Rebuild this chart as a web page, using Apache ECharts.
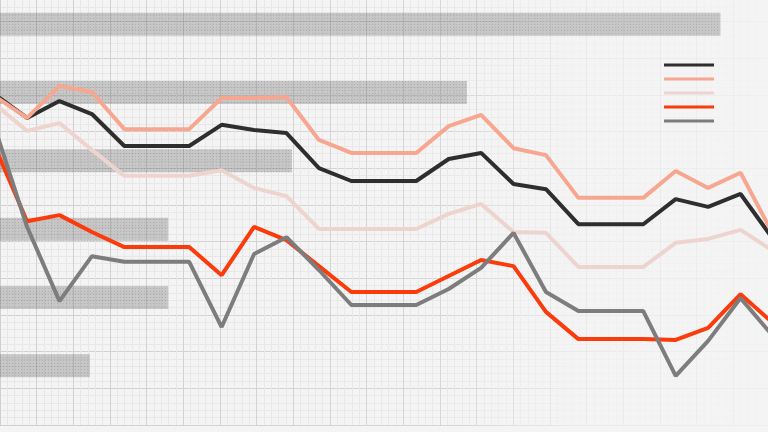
<!DOCTYPE html>
<html>
<head>
<meta charset="utf-8">
<script src="https://cdn.jsdelivr.net/npm/echarts@6/dist/echarts.min.js"></script>
<style>
html,body{margin:0;padding:0;background:#f4f4f4;}
#c{width:768px;height:432px;}
</style>
</head>
<body>
<div id="c"></div>
<script>
// Line chart data
const categories = ['1','2','3','4','5','6','7','8','9','10','11','12','13','14','15','16','17','18','19','20','21','22','23','24','25'];
const seriesNames = ['S1','S2','S3','S4','S5'];
const s1 = [78.2,72.7,76.6,73.6,66.2,66.2,66.2,71.1,69.9,69.2,61.1,58.1,58.1,58.1,63.2,64.6,57.4,56.2,48.1,48.1,48.1,53.9,52.1,55.1,44.7];
const s2 = [77.8,72.7,80.1,78.7,70.1,70.1,70.1,77.3,77.3,77.5,67.6,64.6,64.6,64.6,70.8,73.4,65.7,64.1,54.2,54.2,54.2,60.4,56.5,60.0,45.8];
const s3 = [75.9,69.7,71.5,65.3,59.3,59.3,59.3,60.6,56.5,54.6,47.0,47.0,47.0,47.0,50.5,52.8,46.3,46.1,38.2,38.2,38.2,43.8,44.7,46.8,41.9];
const s4 = [66.2,48.8,50.2,46.3,42.8,42.8,42.8,36.3,47.5,44.4,38.4,32.4,32.4,32.4,36.1,39.8,38.4,27.8,21.5,21.5,21.5,21.3,24.1,31.9,25.2];
const s5 = [70.6,47.5,30.3,40.7,39.4,39.4,39.4,24.3,41.2,45.1,37.5,29.4,29.4,29.4,33.1,38.0,46.1,32.4,28.0,28.0,28.0,13.0,21.1,31.0,22.2];
// Background bar data
const barCategories = ['A','B','C','D','E','F'];
const barValues = [93.8,60.8,38.0,21.9,21.9,11.7];

const colors = ['#2e2e2e','#f7a68f','#eed4cf','#fc3b0c','#7d7d7d'];

function grad(stops){
  return {type:'linear',x:0,y:0,x2:768,y2:0,global:true,colorStops:stops};
}
const majorGrad = grad([{offset:0,color:'#d0d0d0'},{offset:0.58,color:'#d6d6d6'},{offset:0.74,color:'#e9e9e9'},{offset:1,color:'#eeeeee'}]);
const minorGrad = grad([{offset:0,color:'#e7e7e7'},{offset:0.58,color:'#e9e9e9'},{offset:0.74,color:'#f0f0f0'},{offset:1,color:'#f2f2f2'}]);

function paperAxis(max){
  return {
    type:'value', min:0, max:max, interval:1,
    axisLabel:{show:false}, axisLine:{show:false}, axisTick:{show:false},
    splitLine:{show:true,lineStyle:{color:majorGrad,width:1}},
    minorTick:{show:false,splitNumber:5},
    minorSplitLine:{show:true,lineStyle:{color:minorGrad,width:1}}
  };
}

const chart = echarts.init(document.getElementById('c'));
const lineSeries = [s1,s2,s3,s4,s5].map((d,i)=>({
  name: seriesNames[i], type:'line', data:d,
  xAxisIndex:2, yAxisIndex:2,
  symbol:'none', smooth:false,
  lineStyle:{color:colors[i],width:4},
  itemStyle:{color:colors[i]},
  z:10+i
}));

chart.setOption({
  animation:false,
  backgroundColor:'#f4f4f4',
  grid:[
    {left:0,right:-2,top:-15,bottom:7,outerBoundsMode:'none'},
    {left:0,right:0,top:-10,bottom:32,outerBoundsMode:'none'},
    {left:-5.4,right:-5,top:0,bottom:0,outerBoundsMode:'none'}
  ],
  xAxis:[
    Object.assign({gridIndex:0}, paperAxis(21)),
    {gridIndex:1,type:'value',min:0,max:100,show:false},
    {gridIndex:2,type:'category',data:categories,boundaryGap:false,show:false}
  ],
  yAxis:[
    Object.assign({gridIndex:0}, paperAxis(12)),
    {gridIndex:1,type:'category',data:barCategories,inverse:true,show:false},
    {gridIndex:2,type:'value',min:0,max:100,show:false}
  ],
  legend:{
    orient:'vertical', left:664, top:63.5, padding:0,
    icon:'rect',
    itemWidth:50, itemHeight:3, itemGap:11,
    data:seriesNames,
    formatter:function(){return ' ';},
    textStyle:{fontSize:3,lineHeight:3,color:'#f4f4f4'}
  },
  series:[
    {type:'bar',xAxisIndex:1,yAxisIndex:1,data:barValues,barWidth:23,
     itemStyle:{color:'rgba(110,110,110,0.34)',
       decal:{symbol:'rect',symbolSize:1,color:'rgba(60,60,60,0.16)',dashArrayX:[[1,2]],dashArrayY:[1,2],rotation:0}},
     silent:true,z:2}
  ].concat(lineSeries)
});
</script>
</body>
</html>
